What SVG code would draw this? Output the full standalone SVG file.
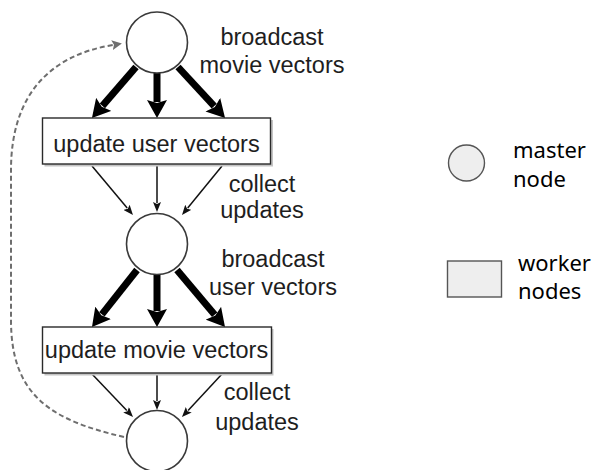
<svg xmlns="http://www.w3.org/2000/svg" width="595" height="470" viewBox="0 0 595 470">
  <style>
    .master { fill: #ffffff; stroke: #3a3a3a; stroke-width: 1.6; }
    .worker { fill: #ffffff; stroke: #2a2a2a; stroke-width: 1.4; }
    .shadow { fill: #c4c4c4; }
    .label { font-family: "Liberation Sans", Arial, sans-serif; font-size: 23.5px; fill: #1e1e1e; text-anchor: middle; }
    .legend { font-family: "Noto Sans", "Open Sans", sans-serif; font-size: 22px; fill: #000000; }
    .thick { stroke: #000000; stroke-width: 7; fill: none; marker-end: url(#headThick); }
    .thin { stroke: #111111; stroke-width: 1.5; fill: none; marker-end: url(#headThin); }
    .loop { stroke: #6e6e6e; stroke-width: 2; fill: none; stroke-dasharray: 5 3; marker-end: url(#headLoop); }
  </style>
  <defs>
    <marker id="headThick" markerUnits="userSpaceOnUse" viewBox="0 0 18 20" markerWidth="18" markerHeight="20" refX="2" refY="10" orient="auto">
      <path d="M0,0 L18,10 L0,20 L3,10 z" fill="#000000"/>
    </marker>
    <marker id="headThin" markerUnits="userSpaceOnUse" viewBox="0 0 10 8" markerWidth="10" markerHeight="8" refX="1" refY="4" orient="auto">
      <path d="M0,0 L10,4 L0,8 L2,4 z" fill="#111111"/>
    </marker>
    <marker id="headLoop" markerUnits="userSpaceOnUse" viewBox="0 0 10 10" markerWidth="10" markerHeight="10" refX="1" refY="5" orient="auto">
      <path d="M0,0 L10,5 L0,10 L2,5 z" fill="#6e6e6e"/>
    </marker>
  </defs>

  <!-- connectors -->
  <g id="connectors">
    <!-- broadcast movie vectors -->
    <path class="thick" d="M136,67 L102.4,105.9"/>
    <path class="thick" d="M157,73 L157,102"/>
    <path class="thick" d="M178,67 L214.2,106.2"/>
    <!-- collect updates -->
    <path class="thin" d="M92,166 L127.2,208.1"/>
    <path class="thin" d="M157,166 L157,203"/>
    <path class="thin" d="M222,166 L187.7,208"/>
    <!-- broadcast user vectors -->
    <path class="thick" d="M137,270 L101.9,314.4"/>
    <path class="thick" d="M157,275 L157,311"/>
    <path class="thick" d="M177,270 L214.7,314.8"/>
    <!-- collect updates -->
    <path class="thin" d="M92,374 L126.8,410.5"/>
    <path class="thin" d="M157,374 L157,401"/>
    <path class="thin" d="M222,374 L188.1,410.4"/>
    <!-- iteration loop -->
    <path class="loop" d="M124,437 C50,420 11,395 11,320 L11,170 C11,95 50,55 113,45"/>
  </g>

  <!-- master nodes -->
  <g id="master1"><circle class="master" cx="157" cy="42.5" r="30.5"/></g>
  <g id="master2"><circle class="master" cx="157" cy="244" r="30.5"/></g>
  <g id="master3"><circle class="master" cx="157" cy="441" r="30.5"/></g>

  <!-- worker stages -->
  <g id="worker1">
    <rect class="shadow" x="44.5" y="120" width="228.5" height="46.5"/>
    <rect class="worker" x="42.5" y="118" width="228" height="46"/>
    <text class="label" x="156.5" y="151.5">update user vectors</text>
  </g>
  <g id="worker2">
    <rect class="shadow" x="44.5" y="329" width="229" height="46.5"/>
    <rect class="worker" x="42.5" y="327" width="229" height="46"/>
    <text class="label" x="156.5" y="358">update movie vectors</text>
  </g>

  <!-- step labels -->
  <g id="labels">
    <text class="label" x="272" y="45">broadcast</text>
    <text class="label" x="272" y="73">movie vectors</text>
    <text class="label" x="262" y="192">collect</text>
    <text class="label" x="262" y="218">updates</text>
    <text class="label" x="273" y="267">broadcast</text>
    <text class="label" x="273" y="295">user vectors</text>
    <text class="label" x="257" y="400">collect</text>
    <text class="label" x="257" y="430">updates</text>
  </g>

  <!-- legend -->
  <g id="legend-master">
    <circle cx="466.5" cy="163" r="18" fill="#eeeeee" stroke="#555555" stroke-width="1.4"/>
    <text class="legend" x="513" y="158">master</text>
    <text class="legend" x="513" y="187">node</text>
  </g>
  <g id="legend-worker">
    <rect x="447.5" y="261" width="54" height="36" fill="#eeeeee" stroke="#555555" stroke-width="1.4"/>
    <text class="legend" x="518" y="271">worker</text>
    <text class="legend" x="518" y="299">nodes</text>
  </g>
</svg>
